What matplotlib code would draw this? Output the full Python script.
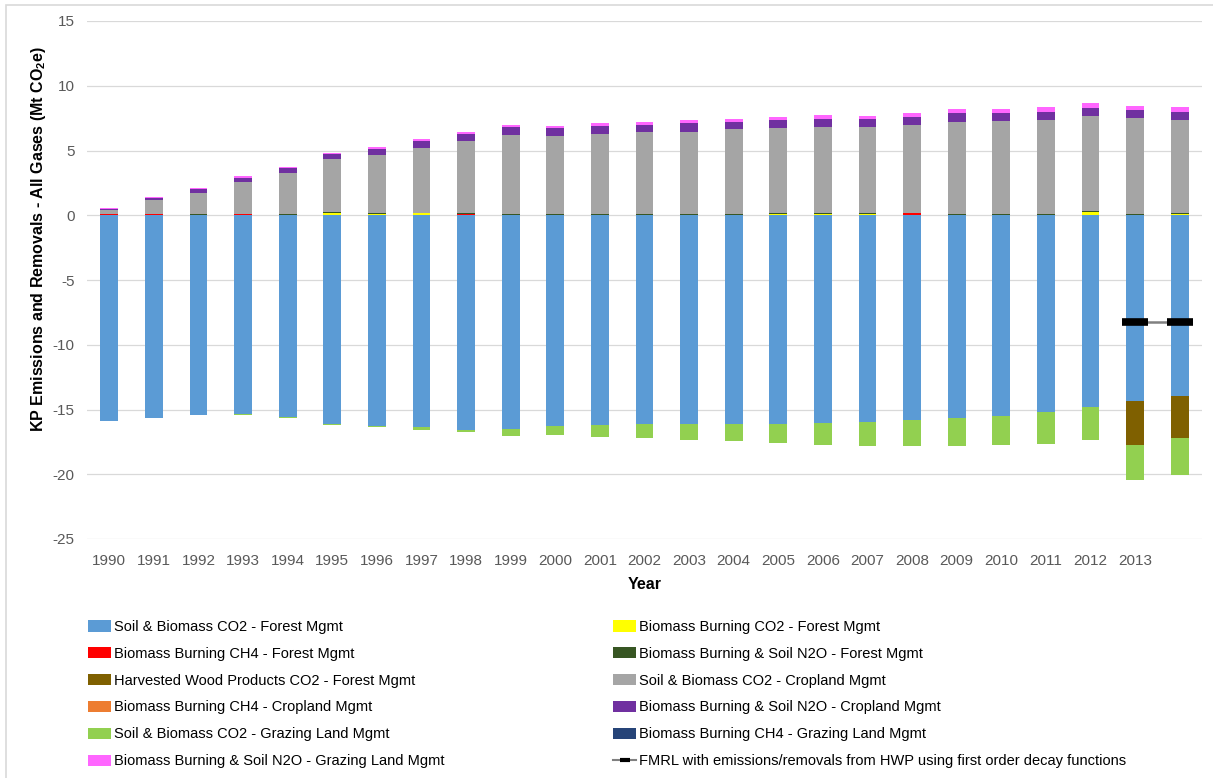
import numpy as np
import matplotlib.pyplot as plt
from matplotlib.patches import Patch, Rectangle
from matplotlib.lines import Line2D

plt.rcParams['font.family'] = ['Liberation Sans', 'DejaVu Sans']
plt.rcParams['mathtext.fontset'] = 'custom'
plt.rcParams['mathtext.rm'] = 'Liberation Sans'
plt.rcParams['mathtext.bf'] = 'Liberation Sans:bold'
plt.rcParams['axes.unicode_minus'] = False

years = list(range(1990, 2015))
tick_labels = [str(y) for y in range(1990, 2014)] + [""]

# Forest management
soil_bio_forest = [-15.85, -15.64, -15.44, -15.34, -15.57, -16.11, -16.24, -16.37, -16.57, -16.47,
                   -16.26, -16.16, -16.14, -16.09, -16.09, -16.09, -16.04, -15.96, -15.83, -15.67,
                   -15.49, -15.18, -14.79, -14.38, -13.94]
bb_co2_forest = [0.05, 0.05, 0.02, 0.02, 0.02, 0.18, 0.10, 0.14, 0.02, 0.02,
                 0.02, 0.02, 0.02, 0.02, 0.02, 0.12, 0.10, 0.12, 0.02, 0.02,
                 0.02, 0.02, 0.22, 0.03, 0.10]
bb_ch4_forest = [0.01, 0.01, 0.01, 0.06, 0.01, 0.01, 0.01, 0.01, 0.10, 0.01,
                 0.01, 0.01, 0.01, 0.01, 0.01, 0.01, 0.01, 0.01, 0.12, 0.01,
                 0.01, 0.01, 0.01, 0.01, 0.01]
bb_n2o_forest = [0.06, 0.07, 0.05, 0.03, 0.05, 0.06, 0.06, 0.05, 0.04, 0.06,
                 0.06, 0.06, 0.06, 0.06, 0.06, 0.06, 0.06, 0.06, 0.04, 0.06,
                 0.06, 0.06, 0.06, 0.06, 0.06]
hwp_forest = [0] * 23 + [-3.37, -3.29]
# Cropland management
soil_bio_crop = [0.26, 1.07, 1.66, 2.48, 3.20, 4.11, 4.52, 5.03, 5.56, 6.12,
                 6.05, 6.21, 6.31, 6.36, 6.57, 6.52, 6.67, 6.60, 6.81, 7.13,
                 7.19, 7.29, 7.37, 7.39, 7.21]
bb_ch4_crop = [0.0] * 25
bb_n2o_crop = [0.13, 0.16, 0.29, 0.31, 0.34, 0.36, 0.46, 0.54, 0.56, 0.58,
               0.57, 0.59, 0.59, 0.67, 0.56, 0.62, 0.62, 0.61, 0.57, 0.65,
               0.64, 0.62, 0.64, 0.62, 0.62]
# Grazing land management
soil_bio_graz = [0.0, 0.0, -0.01, -0.07, -0.05, -0.10, -0.13, -0.18, -0.20, -0.57,
                 -0.72, -0.95, -1.04, -1.24, -1.35, -1.50, -1.71, -1.84, -1.99, -2.15,
                 -2.26, -2.46, -2.59, -2.72, -2.85]
bb_ch4_graz = [0.0] * 25
bb_n2o_graz = [0.08, 0.08, 0.05, 0.10, 0.10, 0.10, 0.11, 0.10, 0.13, 0.16,
               0.18, 0.23, 0.23, 0.23, 0.24, 0.23, 0.28, 0.29, 0.33, 0.30,
               0.25, 0.33, 0.34, 0.33, 0.33]
# FMRL (only for commitment period years)
fmrl = [np.nan] * 23 + [-8.24, -8.24]

series = [
    ("Soil & Biomass CO2 - Forest Mgmt", soil_bio_forest, "#5B9BD5"),
    ("Biomass Burning CO2 - Forest Mgmt", bb_co2_forest, "#FFFF00"),
    ("Biomass Burning CH4 - Forest Mgmt", bb_ch4_forest, "#FF0000"),
    ("Biomass Burning & Soil N2O - Forest Mgmt", bb_n2o_forest, "#375623"),
    ("Harvested Wood Products CO2 - Forest Mgmt", hwp_forest, "#7F6000"),
    ("Soil & Biomass CO2 - Cropland Mgmt", soil_bio_crop, "#A5A5A5"),
    ("Biomass Burning CH4 - Cropland Mgmt", bb_ch4_crop, "#ED7D31"),
    ("Biomass Burning & Soil N2O - Cropland Mgmt", bb_n2o_crop, "#7030A0"),
    ("Soil & Biomass CO2 - Grazing Land Mgmt", soil_bio_graz, "#92D050"),
    ("Biomass Burning CH4 - Grazing Land Mgmt", bb_ch4_graz, "#264478"),
    ("Biomass Burning & Soil N2O - Grazing Land Mgmt", bb_n2o_graz, "#FF66FF"),
]

fig = plt.figure(figsize=(12.13, 7.78), dpi=100)
ax = fig.add_axes([87 / 1213, 1 - 539 / 778, (1202 - 87) / 1213, (539 - 21) / 778])

x = np.arange(len(years))
pos_base = np.zeros(len(years))
neg_base = np.zeros(len(years))
handles = {}
for name, vals, color in series:
    v = np.array(vals, dtype=float)
    base = np.where(v >= 0, pos_base, neg_base)
    ax.bar(x, v, 0.4, bottom=base, color=color, edgecolor="none", zorder=2)
    pos_base += np.where(v >= 0, v, 0)
    neg_base += np.where(v < 0, v, 0)
    handles[name] = Patch(facecolor=color, edgecolor="none")

ax.plot(x, fmrl, color="#808080", lw=1.8, marker="_", markersize=19,
        markeredgewidth=5.5, markeredgecolor="black", zorder=3)

ax.set_xlim(-0.5, len(years) - 0.5)
ax.set_ylim(-25, 15)
ax.set_yticks(range(-25, 16, 5))
ax.set_xticks(x)
ax.set_xticklabels(tick_labels)
ax.tick_params(length=0, labelsize=11, labelcolor="#595959")
ax.tick_params(axis="y", pad=9)
ax.tick_params(axis="x", pad=11)
ax.yaxis.grid(True, color="#D9D9D9", lw=0.9, zorder=0)
ax.set_axisbelow(True)
for s in ax.spines.values():
    s.set_visible(False)

ax.set_xlabel("Year", fontsize=11.5, fontweight="bold", labelpad=6)
ax.set_ylabel(r"KP Emissions and Removals - All Gases (Mt CO$_{\mathbf{2}}$e)",
              fontsize=11.5, fontweight="bold")
ax.yaxis.set_label_coords(-0.035, 0.58)

left_names = [series[0][0], series[2][0], series[4][0], series[6][0], series[8][0], series[10][0]]
right_names = [series[1][0], series[3][0], series[5][0], series[7][0], series[9][0]]
fmrl_label = "FMRL with emissions/removals from HWP using first order decay functions"
fmrl_handle = Line2D([0], [0], color="#808080", lw=1.5, marker="_", markersize=7,
                     markeredgewidth=3, markeredgecolor="black")

leg_kw = dict(frameon=False, fontsize=10.5, handlelength=1.6, handleheight=0.8,
              handletextpad=0.2, labelspacing=0.88, borderaxespad=0, borderpad=0)
fig.legend([handles[n] for n in left_names], left_names, loc="upper left",
           bbox_to_anchor=(88 / 1213, 1 - 620 / 778), **leg_kw)
fig.legend([handles[n] for n in right_names] + [fmrl_handle], right_names + [fmrl_label],
           loc="upper left", bbox_to_anchor=(613 / 1213, 1 - 620 / 778), **leg_kw)

fig.patches.append(Rectangle((6 / 1213, -0.01), 1.1, 1 - 5 / 778 + 0.01, transform=fig.transFigure,
                             fill=False, edgecolor="#D9D9D9", lw=1.2))

fig.savefig("out.png", dpi=100)
